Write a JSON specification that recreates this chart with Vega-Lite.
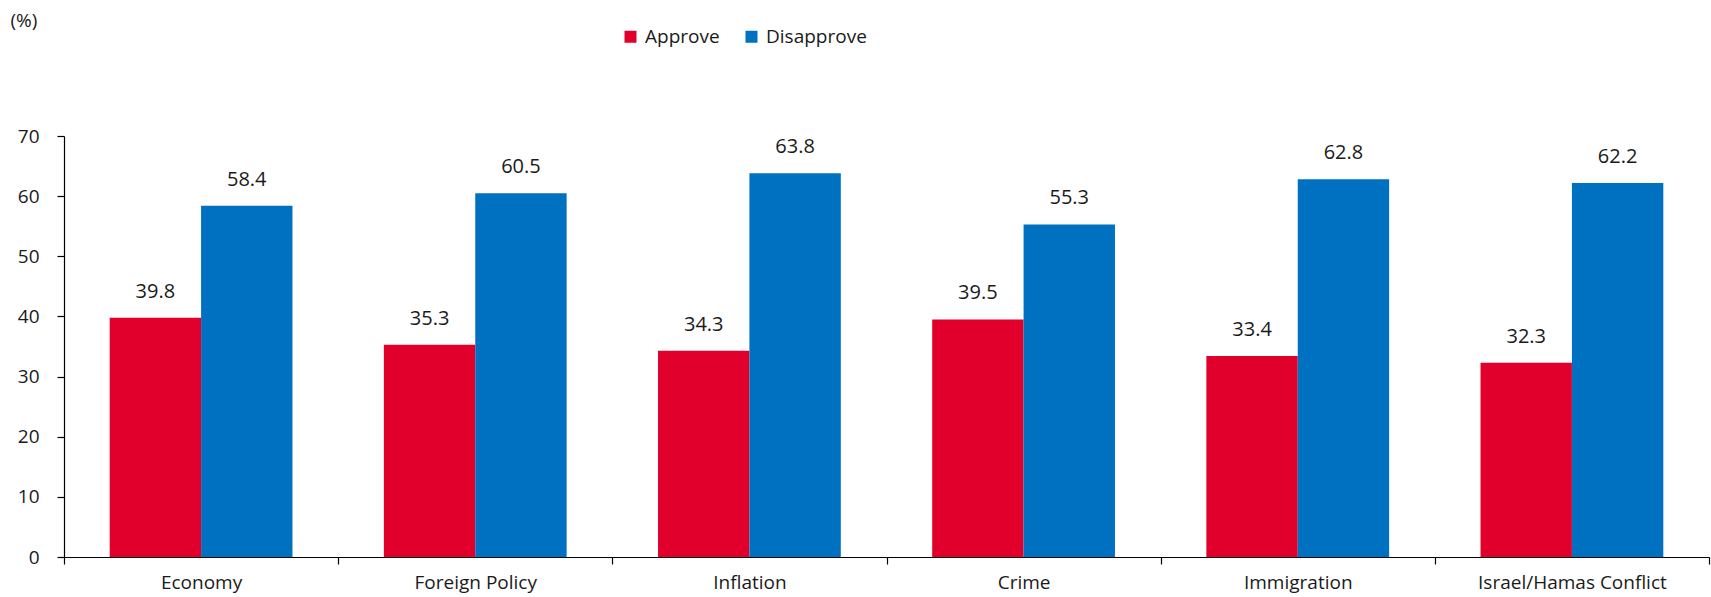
{
  "$schema": "https://vega.github.io/schema/vega-lite/v6.json",
  "width": 1645,
  "height": 421,
  "autosize": "none",
  "padding": {"left": 64, "top": 136, "right": 2, "bottom": 40},
  "background": "white",
  "config": {
    "view": {"stroke": null},
    "font": "Open Sans",
    "axis": {
      "domainColor": "#000000",
      "tickColor": "#000000",
      "labelColor": "#1a1a1a",
      "titleColor": "#1a1a1a",
      "labelFontSize": 19,
      "labelLimit": 400,
      "grid": false
    }
  },
  "data": {
    "values": [
      {"issue": "Economy", "response": "Approve", "value": 39.8},
      {"issue": "Economy", "response": "Disapprove", "value": 58.4},
      {"issue": "Foreign Policy", "response": "Approve", "value": 35.3},
      {"issue": "Foreign Policy", "response": "Disapprove", "value": 60.5},
      {"issue": "Inflation", "response": "Approve", "value": 34.3},
      {"issue": "Inflation", "response": "Disapprove", "value": 63.8},
      {"issue": "Crime", "response": "Approve", "value": 39.5},
      {"issue": "Crime", "response": "Disapprove", "value": 55.3},
      {"issue": "Immigration", "response": "Approve", "value": 33.4},
      {"issue": "Immigration", "response": "Disapprove", "value": 62.8},
      {"issue": "Israel/Hamas Conflict", "response": "Approve", "value": 32.3},
      {"issue": "Israel/Hamas Conflict", "response": "Disapprove", "value": 62.2}
    ]
  },
  "encoding": {
    "x": {
      "field": "issue",
      "type": "nominal",
      "sort": ["Economy", "Foreign Policy", "Inflation", "Crime", "Immigration", "Israel/Hamas Conflict"],
      "scale": {"paddingInner": 0, "paddingOuter": 0},
      "axis": {
        "title": null,
        "labelAngle": 0,
        "tickBand": "extent",
        "tickSize": 7,
        "labelPadding": 9,
        "domainWidth": 1.2,
        "tickWidth": 1.2
      }
    },
    "xOffset": {
      "field": "response",
      "type": "nominal",
      "sort": ["Approve", "Disapprove"],
      "scale": {"paddingInner": 0, "paddingOuter": 0.5}
    },
    "y": {
      "field": "value",
      "type": "quantitative",
      "scale": {"domain": [0, 70], "nice": false},
      "axis": {
        "values": [0, 10, 20, 30, 40, 50, 60, 70],
        "tickSize": 7,
        "labelPadding": 18,
        "domainWidth": 1.2,
        "tickWidth": 1.2,
        "title": "(%)",
        "titleAngle": 0,
        "titleX": -54,
        "titleY": -116,
        "titleAlign": "left",
        "titleBaseline": "middle",
        "titleFontWeight": "normal",
        "titleFontSize": 19
      }
    }
  },
  "layer": [
    {
      "mark": {"type": "bar"},
      "encoding": {
        "color": {
          "field": "response",
          "type": "nominal",
          "scale": {"domain": ["Approve", "Disapprove"], "range": ["#E0002B", "#0070C0"]},
          "legend": {
            "title": null,
            "orient": "none",
            "direction": "horizontal",
            "legendX": 557,
            "legendY": -109,
            "symbolType": "square",
            "symbolSize": 144,
            "symbolStrokeWidth": 0,
            "labelFontSize": 19,
            "labelColor": "#1a1a1a",
            "labelOffset": 5,
            "columnPadding": 22
          }
        }
      }
    },
    {
      "mark": {"type": "text", "baseline": "bottom", "dy": -16, "fontSize": 20, "color": "#1a1a1a"},
      "encoding": {
        "text": {"field": "value", "type": "quantitative", "format": ".1f"}
      }
    }
  ]
}
